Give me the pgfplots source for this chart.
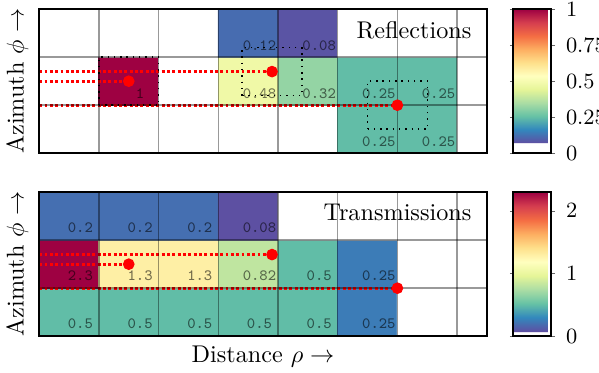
\documentclass[border=0pt]{standalone}
\usepackage{pgfplots}
\pgfplotsset{compat=1.18}
\tikzset{gridline/.style={black, opacity=0.4, line width=0.6pt}}
\pgfplotsset{
  colormap={topmap}{rgb255(0pt)=(255,255,255) rgb255(7pt)=(255,255,255)
    rgb255(7.2pt)=(94,79,162) rgb255(16.48pt)=(50,136,189) rgb255(25.76pt)=(102,194,165)
    rgb255(35.04pt)=(171,221,164) rgb255(44.32pt)=(230,245,152) rgb255(53.6pt)=(255,255,191)
    rgb255(62.88pt)=(254,224,139) rgb255(72.16pt)=(253,174,97) rgb255(81.44pt)=(244,109,67)
    rgb255(90.72pt)=(213,62,79) rgb255(100pt)=(158,1,66)},
  colormap={botmap}{rgb255(0pt)=(255,255,255) rgb255(3pt)=(255,255,255)
    rgb255(3.3pt)=(94,79,162) rgb255(12.97pt)=(50,136,189) rgb255(22.64pt)=(102,194,165)
    rgb255(32.31pt)=(171,221,164) rgb255(41.98pt)=(230,245,152) rgb255(51.65pt)=(255,255,191)
    rgb255(61.32pt)=(254,224,139) rgb255(70.99pt)=(253,174,97) rgb255(80.66pt)=(244,109,67)
    rgb255(90.33pt)=(213,62,79) rgb255(100pt)=(158,1,66)},
  panel/.style={
    scale only axis, width=185pt, height=59.5pt,
    xmin=0, xmax=7.5, ymin=0, ymax=3,
    xtick=\empty, ytick=\empty,
    axis on top,
    axis line style={black, line width=0.8pt},
    ylabel={Azimuth $\phi \rightarrow$},
    every axis y label/.style={at={(axis description cs:-0.005,0.5)}, rotate=90, anchor=south},
    colorbar,
    colorbar style={scale only axis, width=15.7pt, at={(parent axis.north east)}, anchor=north west,
      xshift=2.4pt, axis line style={line width=0.8pt},
      tick align=outside, major tick length=1.5pt, tick style={black!60},
      yticklabel={\small$\pgfmathprintnumber{\tick}$}, yticklabel shift=1pt},
  },
  redline/.style={red, densely dotted, line width=1.2pt},
  boxline/.style={black, dotted, line width=0.6pt},
  cellval/.style={draw=none, mark=none, nodes near coords, point meta=explicit symbolic,
    every node near coord/.append style={anchor=center, inner sep=0pt,
      font=\fontsize{6.5}{7}\selectfont\ttfamily, text=black, text opacity=0.55}},
}
\pgfplotstableread{
x y c
0.5 0.5 0
1.5 0.5 0
2.5 0.5 0
3.5 0.5 0
4.5 0.5 0
5.5 0.5 0.25
6.5 0.5 0.25
7.5 0.5 0
0.5 1.5 0
1.5 1.5 1
2.5 1.5 0
3.5 1.5 0.48
4.5 1.5 0.32
5.5 1.5 0.25
6.5 1.5 0.25
7.5 1.5 0
0.5 2.5 0
1.5 2.5 0
2.5 2.5 0
3.5 2.5 0.12
4.5 2.5 0.08
5.5 2.5 0
6.5 2.5 0
7.5 2.5 0
}\reftable
\pgfplotstableread{
x y c
0.5 0.5 0.5
1.5 0.5 0.5
2.5 0.5 0.5
3.5 0.5 0.5
4.5 0.5 0.5
5.5 0.5 0.25
6.5 0.5 0
7.5 0.5 0
0.5 1.5 2.3
1.5 1.5 1.3
2.5 1.5 1.3
3.5 1.5 0.82
4.5 1.5 0.5
5.5 1.5 0.25
6.5 1.5 0
7.5 1.5 0
0.5 2.5 0.2
1.5 2.5 0.2
2.5 2.5 0.2
3.5 2.5 0.08
4.5 2.5 0
5.5 2.5 0
6.5 2.5 0
7.5 2.5 0
}\trtable
\begin{document}
\begin{tikzpicture}
\begin{axis}[panel, name=top, colormap name=topmap, point meta min=0, point meta max=1,
  colorbar style={ytick={0,0.25,0.5,0.75,1}}]
  \addplot[matrix plot*, mesh/cols=8, point meta=explicit] table[x=x, y=y, meta=c] {\reftable};
  \addplot[redline] coordinates {(0,1.7) (3.9,1.7)};
  \addplot[redline] coordinates {(0,1.5) (1.5,1.5)};
  \addplot[redline] coordinates {(0,1) (6,1)};
  \pgfplotsinvokeforeach{1,2,3,4,5,6,7}{\draw[gridline] (axis cs:#1,0) -- (axis cs:#1,3);}
  \pgfplotsinvokeforeach{1,2}{\draw[gridline] (axis cs:0,#1) -- (axis cs:7.5,#1);}
  \addplot[boxline] coordinates {(3.4,1.2) (4.4,1.2) (4.4,2.2) (3.4,2.2) (3.4,1.2)};
  \addplot[boxline] coordinates {(5.5,0.5) (6.5,0.5) (6.5,1.5) (5.5,1.5) (5.5,0.5)};
  \addplot[boxline] coordinates {(1,1) (2,1) (2,2) (1,2) (1,1)};
  \addplot[only marks, mark=*, mark size=2.2pt, red] coordinates {(3.9,1.7) (1.5,1.5) (6,1)};
  \addplot[cellval] table[meta=l] {
x y l
3.69 2.25 0.12
4.69 2.25 0.08
1.69 1.25 1
3.69 1.25 0.48
4.69 1.25 0.32
5.69 1.25 0.25
6.69 1.25 0.25
5.69 0.25 0.25
6.69 0.25 0.25
};
  \node[anchor=north east, xshift=-2.9pt, yshift=-1.6pt] at (rel axis cs:1,1) {Reflections};
\end{axis}
\begin{axis}[panel, name=bot, at={(top.south west)}, anchor=north west, yshift=-16.1pt,
  colormap name=botmap, point meta min=0, point meta max=2.3,
  colorbar style={ytick={0,1,2}},
  xlabel={Distance $\rho \rightarrow$},
  every axis x label/.style={at={(axis description cs:0.5,0)}, anchor=north, yshift=-0.5pt}]
  \addplot[matrix plot*, mesh/cols=8, point meta=explicit] table[x=x, y=y, meta=c] {\trtable};
  \addplot[redline] coordinates {(0,1.7) (3.9,1.7)};
  \addplot[redline] coordinates {(0,1.5) (1.5,1.5)};
  \addplot[redline] coordinates {(0,1) (6,1)};
  \pgfplotsinvokeforeach{1,2,3,4,5,6,7}{\draw[gridline] (axis cs:#1,0) -- (axis cs:#1,3);}
  \pgfplotsinvokeforeach{1,2}{\draw[gridline] (axis cs:0,#1) -- (axis cs:7.5,#1);}
  \addplot[only marks, mark=*, mark size=2.2pt, red] coordinates {(3.9,1.7) (1.5,1.5) (6,1)};
  \addplot[cellval] table[meta=l] {
x y l
0.69 2.25 0.2
1.69 2.25 0.2
2.69 2.25 0.2
3.69 2.25 0.08
0.69 1.25 2.3
1.69 1.25 1.3
2.69 1.25 1.3
3.69 1.25 0.82
4.69 1.25 0.5
5.69 1.25 0.25
0.69 0.25 0.5
1.69 0.25 0.5
2.69 0.25 0.5
3.69 0.25 0.5
4.69 0.25 0.5
5.69 0.25 0.25
};
  \node[anchor=north east, xshift=-2.9pt, yshift=-1.6pt] at (rel axis cs:1,1) {Transmissions};
\end{axis}
\pgfresetboundingbox
\path[use as bounding box] ([xshift=-16.2pt,yshift=3.8pt]top.north west) rectangle ([xshift=46.3pt,yshift=-14.9pt]bot.south east);
\end{tikzpicture}
\end{document}
